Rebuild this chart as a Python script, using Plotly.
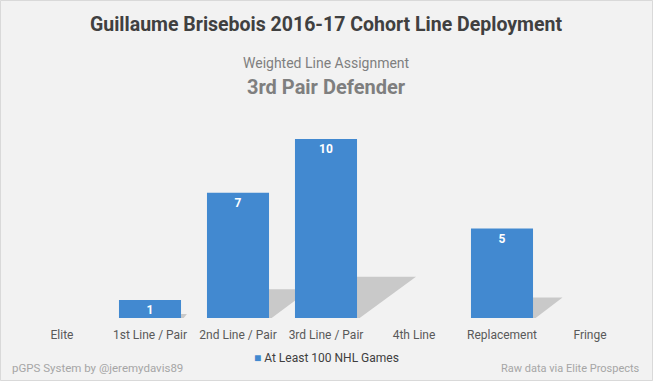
import plotly.graph_objects as go

categories = ["Elite", "1st Line / Pair", "2nd Line / Pair", "3rd Line / Pair", "4th Line", "Replacement", "Fringe"]
games = [0, 1, 7, 10, 0, 5, 0]
series_name = "At Least 100 NHL Games"

W, H = 653, 381
ML, MR, MT, MB = 18, 19, 110, 63
PH = H - MT - MB
FONT = "Roboto, sans-serif"
BAR_COLOR = "#4289d0"


def py(px):
    return (H - MB - px) / PH


def pxx(px):
    return (px - ML) / (W - ML - MR)


BARGAP = 0.295
half = (1 - BARGAP) / 2

fig = go.Figure()
fig.add_trace(go.Bar(
    x=list(range(len(categories))), y=games, name=series_name,
    marker=dict(color=BAR_COLOR, line=dict(width=0)),
    text=[f"<b>{v}</b>" if v else "" for v in games],
    textposition="inside", insidetextanchor="end", textangle=0,
    textfont=dict(color="white", size=12, family=FONT),
    constraintext="none", cliponaxis=False, showlegend=False,
))

shapes = []
for i, v in enumerate(games):
    if v <= 0:
        continue
    x0 = i + half
    hy = 0.23 * v
    dx = 0.067 * v
    shapes.append(dict(
        type="path", xref="x", yref="y", layer="below",
        path=f"M {x0},0 L {x0},{hy} L {x0 + dx},{hy} L {x0 + 0.03},0 Z",
        fillcolor="#c9c9c9", line=dict(width=0),
    ))
shapes.append(dict(type="rect", xref="paper", yref="paper",
                   x0=pxx(0.5), x1=pxx(W - 0.5), y0=py(H - 0.5), y1=py(0.5),
                   line=dict(color="#d9d9d9", width=1), fillcolor="rgba(0,0,0,0)"))

annotations = [
    dict(text="<b>Guillaume Brisebois 2016-17 Cohort Line Deployment</b>", x=0.5, y=py(25),
         font=dict(size=19.5, color="#404040", family=FONT)),
    dict(text="Weighted Line Assignment", x=0.5, y=py(63),
         font=dict(size=14, color="#7f7f7f", family=FONT)),
    dict(text="<b>3rd Pair Defender</b>", x=0.5, y=py(87),
         font=dict(size=20, color="#7f7f7f", family=FONT)),
    dict(text=f"<span style='color:{BAR_COLOR}'>■</span> {series_name}", x=0.5, y=py(358),
         font=dict(size=12, color="#404040", family=FONT)),
    dict(text="pGPS System by @jeremydavis89", x=pxx(10), y=py(368), xanchor="left",
         font=dict(size=11.5, color="#a6a6a6", family=FONT)),
    dict(text="Raw data via Elite Prospects", x=pxx(642), y=py(368), xanchor="right",
         font=dict(size=11, color="#a6a6a6", family=FONT)),
]
for a in annotations:
    a.update(xref="paper", yref="paper", showarrow=False, yanchor="middle")
    a.setdefault("xanchor", "center")

fig.update_layout(
    width=W, height=H, margin=dict(l=ML, r=MR, t=MT, b=MB),
    paper_bgcolor="#f2f2f2", plot_bgcolor="#f2f2f2",
    bargap=BARGAP, showlegend=False,
    xaxis=dict(tickmode="array", tickvals=list(range(len(categories))), ticktext=categories,
               range=[-0.5, len(categories) - 0.5], showgrid=False, zeroline=False,
               showline=False, ticks="", ticklabelstandoff=8,
               tickfont=dict(size=12, color="#595959", family=FONT)),
    yaxis=dict(range=[0, PH / 17.9], visible=False, showgrid=False, zeroline=False),
    shapes=shapes, annotations=annotations,
    font=dict(family=FONT),
)

fig.write_html("out.html", config={"displayModeBar": False},
               post_script="document.body.style.margin='0';document.body.style.overflow='hidden';")
